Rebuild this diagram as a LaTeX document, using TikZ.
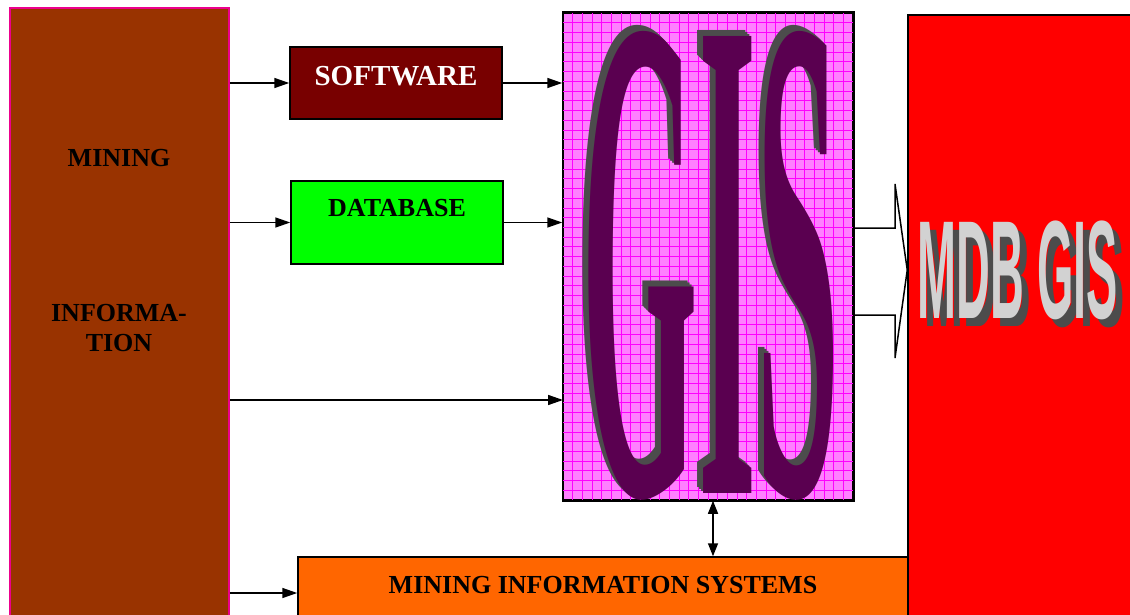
\documentclass[tikz,border=0pt]{standalone}
\usepackage{fontspec}
\setmainfont{Liberation Serif}
\newfontfamily\mdbfont{Liberation Sans}
\usetikzlibrary{arrows.meta}

\definecolor{infobrown}{HTML}{993300}
\definecolor{swred}{HTML}{780000}
\definecolor{gispink}{HTML}{FF80FF}
\definecolor{gisgrid}{HTML}{FF00FF}
\definecolor{gisface}{HTML}{5A0050}
\definecolor{misorange}{HTML}{FF6600}

\tikzset{
  box/.style={draw, line width=1.5pt, inner sep=0pt},
  lbl/.style={font=\bfseries\fontsize{26}{28}\selectfont, inner sep=0pt},
  arr/.style={line width=1.5pt, -{Triangle[length=15pt,width=10pt]}},
  gisletters/.style={font=\bfseries\fontsize{100}{100}\selectfont, inner sep=0pt, xscale=1.5, yscale=6.98},
  mdbletters/.style={font=\mdbfont\bfseries\fontsize{60}{60}\selectfont, inner sep=0pt, xscale=0.78, yscale=2.33},
}

\begin{document}
\begin{tikzpicture}[x=1pt,y=-1pt]
\fill[white] (0,0) rectangle (1130,615);
\useasboundingbox (0,0) rectangle (1130,615);

% mining information
\node[box, draw=magenta, fill=infobrown, minimum width=219pt, minimum height=612pt] (info) at (119.5,314) {};
\node[lbl] (mining) at (119,158) {MINING};
\node[lbl] (informa) at (119,313) {INFORMA-};
\node[lbl] (tion) at (119,343) {TION};

% software, database
\node[box, fill=swred, minimum width=212pt, minimum height=72pt] (sw) at (396,83) {};
\node[lbl, text=white, font=\bfseries\fontsize{29}{30}\selectfont] (swtext) at (396,76) {SOFTWARE};
\node[box, fill=green, minimum width=212pt, minimum height=83pt] (db) at (397,222.5) {};
\node[lbl] (dbtext) at (397,208) {DATABASE};

% gis
\node[box, fill=gispink, minimum width=290pt, minimum height=487pt] (gis) at (708,256.5) {};
\foreach \i in {1,...,29}
  \draw[gisgrid, line width=0.6pt] (563+\i*9.667,13) -- ++(0,487);
\foreach \j in {1,...,49}
  \draw[gisgrid, line width=0.6pt] (563,13+\j*9.74) -- ++(290,0);
\draw[line width=1.5pt] (gis.north west) rectangle (gis.south east);
\foreach \d in {2,4,6}
  \node[gisletters, text=gray!60!black] at (711-\d,266-\d) {GIS};
\node[gisletters, text=gisface] (gisword) at (711,266) {GIS};

% mining information systems
\node[box, fill=misorange, minimum width=610pt, minimum height=72pt] (mis) at (603,593) {};
\node[lbl] (mistext) at (603,585) {MINING INFORMATION SYSTEMS};

% mdb gis
\node[box, fill=red, minimum width=232pt, minimum height=615pt] (mdb) at (1024,322.5) {};
\node[mdbletters, text=gray!60!black] (mdbshadow) at (1025,278) {MDB GIS};
\node[mdbletters, text=gray!35] (mdbtext) at (1018,270) {MDB GIS};

% connectors
\draw[arr] (info.east |- sw.west) -- (sw.west);
\draw[arr] (sw.east) -- (gis.west |- sw.east);
\draw[arr] (info.east |- db.west) -- (db.west);
\draw[arr] (db.east) -- (gis.west |- db.east);
\coordinate (gisin) at (563,400);
\draw[arr] (info.east |- gisin) -- (gisin);
\draw[arr] (info.east |- mis.west) -- (mis.west);
\coordinate (gisbot) at ([xshift=5pt]gis.south);
\draw[line width=1.5pt, {Triangle[length=13pt,width=10pt]}-{Triangle[length=13pt,width=10pt]}] (gisbot) -- (gisbot |- mis.north);
\draw[line width=1.5pt, line join=miter] (gis.east |- 0,228) -- (895,228) -- (895,184) -- (mdb.west |- 0,270) -- (895,358) -- (895,315) -- (gis.east |- 0,315);

\end{tikzpicture}
\end{document}
